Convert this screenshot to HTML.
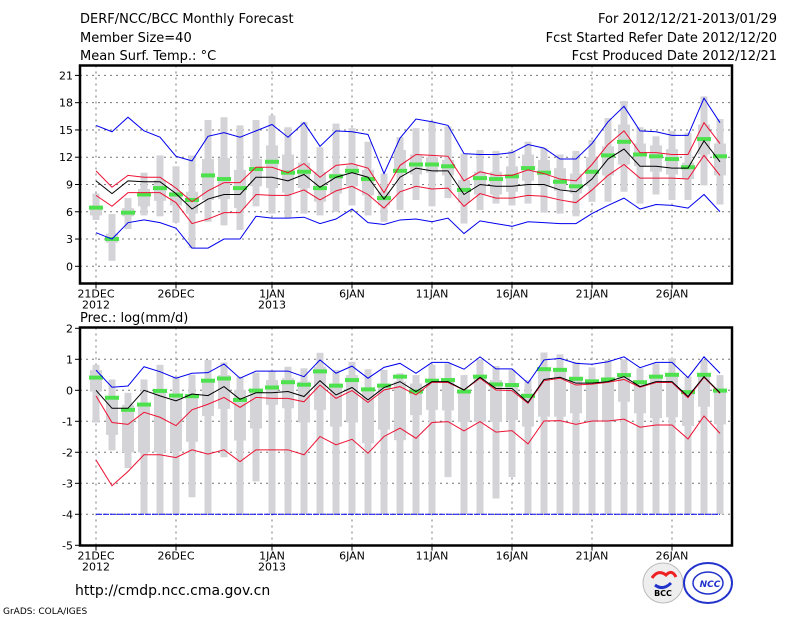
<!DOCTYPE html>
<html><head><meta charset="utf-8"><style>
html,body{margin:0;padding:0;background:#fff;width:800px;height:618px;overflow:hidden}
svg{display:block}
text{font-family:"DejaVu Sans","Liberation Sans",sans-serif;fill:#000}
</style></head><body>
<svg id="chart" width="800" height="618" viewBox="0 0 800 618" xmlns="http://www.w3.org/2000/svg">
<text x="80" y="23" font-size="13">DERF/NCC/BCC Monthly Forecast</text>
<text x="80" y="42" font-size="13">Member Size=40</text>
<text x="80" y="60" font-size="13">Mean Surf. Temp.: °C</text>
<text x="777" y="23" font-size="13" text-anchor="end">For 2012/12/21-2013/01/29</text>
<text x="777" y="42" font-size="13" text-anchor="end">Fcst Started Refer Date 2012/12/20</text>
<text x="777" y="60" font-size="13" text-anchor="end">Fcst Produced Date 2012/12/21</text>
<text x="80" y="322" font-size="13">Prec.: log(mm/d)</text>
<text x="75" y="595" font-size="14">http://cmdp.ncc.cma.gov.cn</text>
<text x="3" y="614" font-size="9">GrADS: COLA/IGES</text>
<g>
<circle cx="663" cy="583" r="20" fill="#eee" stroke="#bbb"/>
<path d="M652 578 q6 -9 14 -3 q6 -6 10 2" fill="none" stroke="#e22" stroke-width="3"/>
<path d="M655 585 q8 6 16 -2" fill="none" stroke="#23c" stroke-width="3"/>
<text x="663" y="596" font-size="8" font-weight="bold" text-anchor="middle">BCC</text>
</g>
<g>
<ellipse cx="708" cy="583" rx="24" ry="20" fill="#fff" stroke="#23c" stroke-width="2"/>
<ellipse cx="708" cy="583" rx="15" ry="11" fill="none" stroke="#23c" stroke-width="1.5"/>
<text x="710" y="587" font-size="9" font-weight="bold" font-style="italic" text-anchor="middle" style="fill:#23c">NCC</text>
</g>
</svg>
<script>
// ---- temperature panel data ----
const days = ["21DEC","26DEC","1JAN","6JAN","11JAN","16JAN","21JAN","26JAN"];
const dayIdx = [0,5,11,16,21,26,31,36];
const years = ["2012","","2013","","","","",""];
const tTicks = [0,3,6,9,12,15,18,21];
const tBarMax = [8.0,5.75,7.5,10.3,12.2,11.0,12.2,16.1,16.4,15.5,16.1,16.6,15.3,15.9,13.1,15.7,15.2,13.7,10.2,14.2,15.2,15.9,15.4,12.4,12.8,12.7,12.7,13.7,13.0,12.3,12.7,13.9,16.3,18.2,15.3,14.3,14.9,14.7,18.7,16.2];
const tBarMin = [5.1,0.6,4.1,5.6,5.5,4.8,2.0,4.9,4.5,4.0,6.6,5.8,5.3,5.8,5.6,6.0,6.7,5.6,4.9,6.2,7.3,6.6,7.5,4.7,6.2,6.9,6.7,6.9,5.9,5.8,5.5,7.1,7.1,8.2,6.9,7.9,7.3,7.3,8.9,6.8];
const tBoxHi = [6.7,3.6,6.4,8.5,9.5,8.2,8.2,11.8,11.9,10.6,11.8,13.3,12.3,11.4,10.4,10.2,11.1,10.6,8.2,12.8,12.3,12.0,11.7,9.5,10.4,10.4,11.0,12.3,11.7,10.8,10.2,12.0,13.2,15.6,13.5,13.3,12.9,11.4,15.6,13.5];
const tBoxLo = [5.6,2.6,5.5,6.6,7.2,6.7,5.8,7.3,7.4,6.4,8.8,8.6,8.1,8.6,7.1,8.0,8.8,7.8,6.7,10.3,10.1,10.3,10.0,7.0,7.9,7.9,8.2,9.4,8.8,8.3,8.0,8.8,10.0,11.2,11.0,10.4,10.1,9.6,12.3,10.0];
const tGreen = [6.45,3.0,5.9,7.9,8.6,7.9,7.3,10.0,9.6,8.6,10.7,11.5,10.3,10.4,8.6,9.9,10.5,9.6,7.5,10.5,11.2,11.2,11.0,8.4,9.7,9.6,9.9,10.8,10.3,9.3,8.8,10.4,12.2,13.7,12.3,12.1,11.8,10.9,14.0,12.1];
const tBlueHi = [15.5,14.8,16.4,14.9,14.2,12.1,11.6,14.3,14.7,14.2,14.9,15.6,14.2,15.8,13.2,14.9,14.8,14.5,10.2,14.1,16.2,15.9,15.5,12.4,12.3,12.3,12.5,13.4,13.0,11.8,11.8,13.5,15.9,17.6,14.9,14.8,14.4,14.4,18.5,15.8];
const tRedHi = [10.5,8.7,10.0,9.8,9.8,8.6,7.1,8.3,9.2,9.2,10.9,10.9,10.3,11.3,9.8,11.1,11.3,10.8,8.1,11.1,12.3,12.2,12.1,9.4,10.4,10.0,10.0,10.6,10.2,9.6,9.4,11.2,13.4,14.9,12.5,12.5,12.3,12.3,15.8,13.5];
const tMean = [9.4,8.0,9.4,9.3,9.3,8.0,6.3,7.4,7.9,7.9,9.8,9.8,9.4,10.1,8.7,9.8,10.3,9.8,7.4,9.8,10.8,10.5,10.5,7.9,9.0,8.8,8.8,9.0,9.0,8.4,8.2,9.6,11.8,12.9,11.0,11.0,10.8,10.8,13.8,11.5];
const tRedLo = [7.8,6.6,8.1,8.1,8.1,7.0,4.7,5.2,5.9,5.9,7.9,7.8,7.8,8.4,7.3,8.3,8.8,7.9,6.4,8.2,8.8,8.5,8.6,6.6,8.0,7.5,7.5,7.8,7.7,7.3,7.0,8.4,10.0,11.2,9.7,9.7,9.7,9.6,12.2,10.0];
const tBlueLo = [3.7,3.0,4.8,5.1,4.8,4.2,2.0,2.0,3.0,3.0,5.5,5.3,5.3,5.4,4.7,5.2,6.3,4.8,4.6,5.1,5.2,4.9,5.3,3.6,5.0,4.7,4.4,4.9,4.8,4.7,4.7,5.8,6.7,7.5,6.3,6.8,6.7,6.4,7.9,6.0];
// ---- precipitation panel data ----
const pTicks = [-5,-4,-3,-2,-1,0,1,2];
const pBarMax = [0.82,0.35,-0.08,0.35,0.82,0.44,0.5,0.98,0.9,0.44,0.57,0.63,0.76,0.71,1.21,0.66,0.92,0.68,0.66,0.55,0.49,0.82,0.87,0.49,1.0,0.78,0.66,0.33,1.22,1.16,0.92,0.74,0.98,1.0,0.71,0.87,1.03,0.44,0.98,0.49];
const pBarMin = [-1.04,-1.94,-2.51,-4,-4,-4,-3.45,-4,-2.16,-4,-2.94,-4,-4,-4,-4,-4,-4,-4,-4,-4,-4,-4,-2.8,-4,-4,-3.49,-2.8,-4,-4,-4,-4,-4,-4,-4,-4,-4,-4,-4,-4,-4];
const pBoxHi = [0.65,-0.2,-0.47,-0.42,-0.04,-0.26,-0.15,0.33,0.49,0.01,0.01,0.33,0.39,0.28,0.76,0.22,0.49,0.06,0.22,0.28,0.22,0.33,0.39,0.01,0.49,0.33,0.22,-0.1,0.71,0.6,0.44,0.28,0.39,0.55,0.28,0.44,0.55,0.01,0.55,0.06];
const pBoxLo = [-0.04,-1.44,-2.0,-2.0,-2.0,-1.97,-1.66,-0.83,-0.6,-1.62,-1.23,-0.47,-0.58,-1.04,-0.63,-1.17,-1.04,-1.71,-1.27,-1.61,-0.8,-0.63,-0.65,-1.02,-1.02,-1.02,-0.96,-1.17,-0.85,-0.85,-0.74,-1.02,-1.02,-0.37,-0.74,-0.9,-0.87,-1.15,-0.53,-1.1];
const pGreen = [0.41,-0.24,-0.63,-0.46,-0.02,-0.17,-0.19,0.31,0.38,-0.31,-0.01,0.09,0.26,0.18,0.61,0.15,0.33,0.03,0.15,0.44,-0.04,0.31,0.33,-0.04,0.44,0.19,0.17,-0.18,0.68,0.66,0.37,0.29,0.35,0.49,0.26,0.44,0.5,-0.06,0.5,-0.01];
const pBlueHi = [0.65,0.1,0.14,0.76,0.6,0.39,0.55,0.57,0.85,0.39,0.62,0.62,0.62,0.44,0.98,0.55,0.78,0.39,0.74,0.87,0.55,0.9,0.9,0.68,1.08,0.69,0.69,0.23,0.98,1.03,0.87,0.84,0.92,1.08,0.73,0.9,0.9,0.41,1.08,0.55];
const pMean = [0,-0.58,-0.58,0,-0.18,-0.34,-0.12,-0.17,0.12,-0.29,-0.08,-0.08,-0.04,-0.2,0.31,-0.15,0.09,-0.31,0.09,0.28,-0.04,0.28,0.28,0.01,0.42,0.06,0.06,-0.39,0.35,0.42,0.23,0.23,0.28,0.44,0.12,0.28,0.28,-0.2,0.44,-0.08];
const pRedHi = [-0.18,-1.04,-1.1,-0.71,-0.87,-1.14,-0.63,-0.45,-0.23,-0.55,-0.23,-0.26,-0.26,-0.37,0.17,-0.26,-0.01,-0.39,0.01,0.12,-0.15,0.26,0.25,0.01,0.39,0.01,-0.01,-0.42,0.31,0.39,0.17,0.2,0.26,0.35,0.1,0.25,0.25,-0.24,0.42,-0.1];
const pRedLo = [-2.25,-3.08,-2.62,-2.08,-2.08,-2.17,-1.92,-2.06,-1.92,-2.3,-1.92,-1.92,-1.92,-2.08,-1.49,-1.76,-1.58,-2.03,-1.49,-1.22,-1.55,-1.04,-1.01,-1.31,-1.01,-1.35,-1.3,-1.73,-0.99,-0.98,-1.1,-0.99,-0.99,-0.93,-1.19,-1.12,-1.12,-1.57,-0.83,-1.39];
const pBlueLo = [-4,-4,-4,-4,-4,-4,-4,-4,-4,-4,-4,-4,-4,-4,-4,-4,-4,-4,-4,-4,-4,-4,-4,-4,-4,-4,-4,-4,-4,-4,-4,-4,-4,-4,-4,-4,-4,-4,-4,-4];

const NS='http://www.w3.org/2000/svg';
const svg=document.getElementById('chart');
const X0=80, X1=732;
const xs=d=>96+16*d;
function mk(tag,attrs,parent){const e=document.createElementNS(NS,tag);for(const k in attrs)e.setAttribute(k,attrs[k]);(parent||svg).appendChild(e);return e;}

function panel(name,top,bottom,ys,ticks,s){
  const g=mk('g',{});
  
  
  // gridlines
  ticks.forEach(t=>{const y=ys(t);if(y<top+1||y>bottom-1)return;
    const l=mk('line',{x1:X0,x2:X1,y1:y,y2:y,stroke:'#777','stroke-dasharray':'2,4','stroke-width':1},g);
    
    });
  dayIdx.forEach(d=>{const l=mk('line',{x1:xs(d),x2:xs(d),y1:top,y2:bottom,stroke:'#777','stroke-dasharray':'2,4','stroke-width':1},g);
    
    });
  // bars
  for(let i=0;i<40;i++){
    const x=xs(i);
    const b=mk('rect',{x:x-3.5,y:ys(s.bmax[i]),width:7,height:ys(s.bmin[i])-ys(s.bmax[i]),fill:'#d4d4d8'},g);
    
    
    const w=mk('rect',{x:x-6,y:ys(s.hi[i]),width:12,height:ys(s.lo[i])-ys(s.hi[i]),fill:'#d4d4d8'},g);
    
    
  }
  for(let i=0;i<40;i++){
    const m=mk('rect',{x:xs(i)-7,y:ys(s.green[i])-2,width:14,height:4,fill:'#4de24d'},g);
    
    
  }
  const lines=[[s.blueLo,'#0000ee',s.dashLo],[s.blueHi,'#0000ee'],[s.redLo,'#ee1133'],[s.redHi,'#ee1133'],[s.mean,'#000']];
  const names=['lower-bound-line','upper-bound-line','lower-sd-line','upper-sd-line','ensemble-mean-line'];
  lines.forEach((L,j)=>{
    const p=mk('polyline',{points:L[0].map((v,i)=>xs(i)+','+ys(v)).join(' '),fill:'none',stroke:L[1],'stroke-width':1},g);
    if(L[2])p.setAttribute('stroke-dasharray','6,1');
    
    
  });
  // frame
  const f=mk('rect',{x:X0,y:top,width:X1-X0,height:bottom-top,fill:'none',stroke:'#000','stroke-width':2.5},g);
  
  
  ticks.forEach(t=>{const y=ys(t);
    mk('line',{x1:X0-5,x2:X0,y1:y,y2:y,stroke:'#000'},g);
    const tx=mk('text',{x:X0-7,y:y+4,'font-size':11,'text-anchor':'end'},g);
    tx.textContent=t;
    
    });
  dayIdx.forEach((d,k)=>{const x=xs(d);
    mk('line',{x1:x,x2:x,y1:bottom,y2:bottom+5,stroke:'#000'},g);
    const tx=mk('text',{x:x,y:bottom+14,'font-size':11,'text-anchor':'middle'},g);
    tx.textContent=days[k];
    
    
    if(years[k]){const ty=mk('text',{x:x,y:bottom+25,'font-size':11,'text-anchor':'middle'},g);
      ty.textContent=years[k];
      
      }
  });
}
panel('temperature-panel',65.5,283.5,v=>266.3-9.09*v,tTicks,{bmax:tBarMax,bmin:tBarMin,hi:tBoxHi,lo:tBoxLo,green:tGreen,blueHi:tBlueHi,redHi:tRedHi,mean:tMean,redLo:tRedLo,blueLo:tBlueLo});
panel('precipitation-panel',327.5,545.5,v=>390.3-31.0*v,pTicks,{bmax:pBarMax,bmin:pBarMin,hi:pBoxHi,lo:pBoxLo,green:pGreen,blueHi:pBlueHi,redHi:pRedHi,mean:pMean,redLo:pRedLo,blueLo:pBlueLo,dashLo:true});
</script>
</body></html>
